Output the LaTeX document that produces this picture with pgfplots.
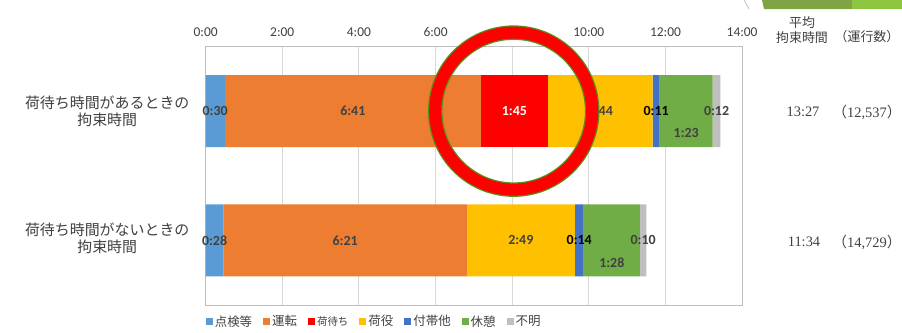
\documentclass[border=0pt]{standalone}
\usepackage{pgfplots}
\pgfplotsset{compat=1.18}
\usepackage{fontspec}
\setmainfont{Carlito}
\newfontfamily\jp{Noto Sans CJK JP}
\newfontfamily\ser{Liberation Serif}
\definecolor{cA}{HTML}{5B9BD5}
\definecolor{cB}{HTML}{ED7D31}
\definecolor{cC}{HTML}{FF0000}
\definecolor{cD}{HTML}{FFC000}
\definecolor{cE}{HTML}{4472C4}
\definecolor{cF}{HTML}{70AD47}
\definecolor{cG}{HTML}{BFBFBF}
\definecolor{lab}{HTML}{404040}
\definecolor{tickc}{HTML}{404040}
\definecolor{gridc}{HTML}{D9D9D9}
\definecolor{ringg}{HTML}{5A8F1E}
\definecolor{decoA}{HTML}{7FA446}
\definecolor{decoB}{HTML}{8DC63F}
\begin{document}
\begin{tikzpicture}[x=1bp,y=1bp]
\path[use as bounding box] (0,0) rectangle (902,-332);
\fill[decoA] (762,0) -- (852,0) -- (852,-9) -- (764,-9) -- cycle;
\fill[decoB] (852,0) rectangle (902,-9);
\draw[gray!60, line width=0.6bp] (744,0) -- (749,-9);
\begin{axis}[
  at={(205.6bp,-305bp)}, anchor=south west,
  scale only axis, width=536.5bp, height=258.5bp,
  xbar stacked, bar width=72bp,
  xmin=0, xmax=14, ymin=-0.5, ymax=1.5, y dir=reverse,
  xtick={0,2,...,14},
  xticklabels={0:00,2:00,4:00,6:00,8:00,10:00,12:00,14:00},
  xticklabel pos=upper,
  ytick={0,1},
  yticklabels={{荷待ち時間があるときの\\拘束時間},{\raisebox{9bp}{\begin{tabular}{@{}c@{}}荷待ち時間がないときの\\拘束時間\end{tabular}}}},
  yticklabel style={font=\jp\fontsize{15}{17}\selectfont, text=lab, align=center, anchor=east, inner sep=0pt, xshift=-16bp},
  major tick length=0pt,
  xmajorgrids, major grid style={draw=gridc, line width=0.8bp},
  axis line style={draw=cG, line width=0.8bp},
  xticklabel style={font=\fontsize{13.5}{15}\selectfont, text=tickc, inner sep=0pt, yshift=10bp},
  point meta=explicit symbolic,
  nodes near coords,
  every node near coord/.append style={font=\bfseries\fontsize{14}{16}\selectfont, text=lab},
  legend columns=-1,
  legend style={at={(0,0)}, anchor=west, yshift=-16.5bp, draw=none, fill=none, inner sep=0pt,
    font=\jp\fontsize{12.5}{14}\selectfont, text=lab,
    /tikz/every even column/.append style={column sep=9bp},
    nodes={inner xsep=2bp, inner ysep=0pt}},
  legend image code/.code={\fill[#1] (0bp,-3.5bp) rectangle (7bp,3.5bp);},
]
\addplot[fill=cA, draw=none] coordinates {(0.5,0) [0:30] (0.4667,1) [0:28]};
\addlegendentry{点検等}
\addplot[fill=cB, draw=none] coordinates {(6.6833,0) [6:41] (6.35,1) [6:21]};
\addlegendentry{運転}
\addplot[fill=cC, draw=none, every node near coord/.append style={text=white}] coordinates {(1.75,0) [1:45] (0,1) []};
\addlegendentry{\fontsize{10.5}{12}\selectfont 荷待ち}
\addplot[fill=cD, draw=none] coordinates {(2.7333,0) [2:44] (2.8167,1) [2:49]};
\addlegendentry{荷役}
\addplot[fill=cE, draw=none, every node near coord/.append style={text=black}] coordinates {(0.1833,0) [0:11] (0.2333,1) [0:14]};
\addlegendentry{付帯他}
\addplot[fill=cF, draw=none, every node near coord/.append style={yshift=-22bp}] coordinates {(1.3833,0) [1:23] (1.4667,1) [1:28]};
\addlegendentry{休憩}
\addplot[fill=cG, draw=none] coordinates {(0.2,0) [0:12] (0.1667,1) [0:10]};
\addlegendentry{不明}
\coordinate (C) at (axis cs:8.04,0);
\end{axis}
\draw[ringg, line width=14.5bp] (C) circle[radius=78.5bp];
\draw[cC, line width=12bp] (C) circle[radius=78.5bp];
\node[font=\jp\fontsize{13}{14.5}\selectfont, text=lab, align=center] at (802,-30) {平均\\拘束時間};
\node[font=\jp\fontsize{13}{15}\selectfont, text=lab] at (867,-37) {（運行数）};
\node[font=\ser\fontsize{14.5}{16}\selectfont, text=lab] at (803,-112) {13:27};
\node[font=\ser\fontsize{14.5}{16}\selectfont, text=lab] at (867,-112) {{\jp （}12,537{\jp ）}};
\node[font=\ser\fontsize{14.5}{16}\selectfont, text=lab] at (804,-242) {11:34};
\node[font=\ser\fontsize{14.5}{16}\selectfont, text=lab] at (867,-242) {{\jp （}14,729{\jp ）}};
\end{tikzpicture}
\end{document}
